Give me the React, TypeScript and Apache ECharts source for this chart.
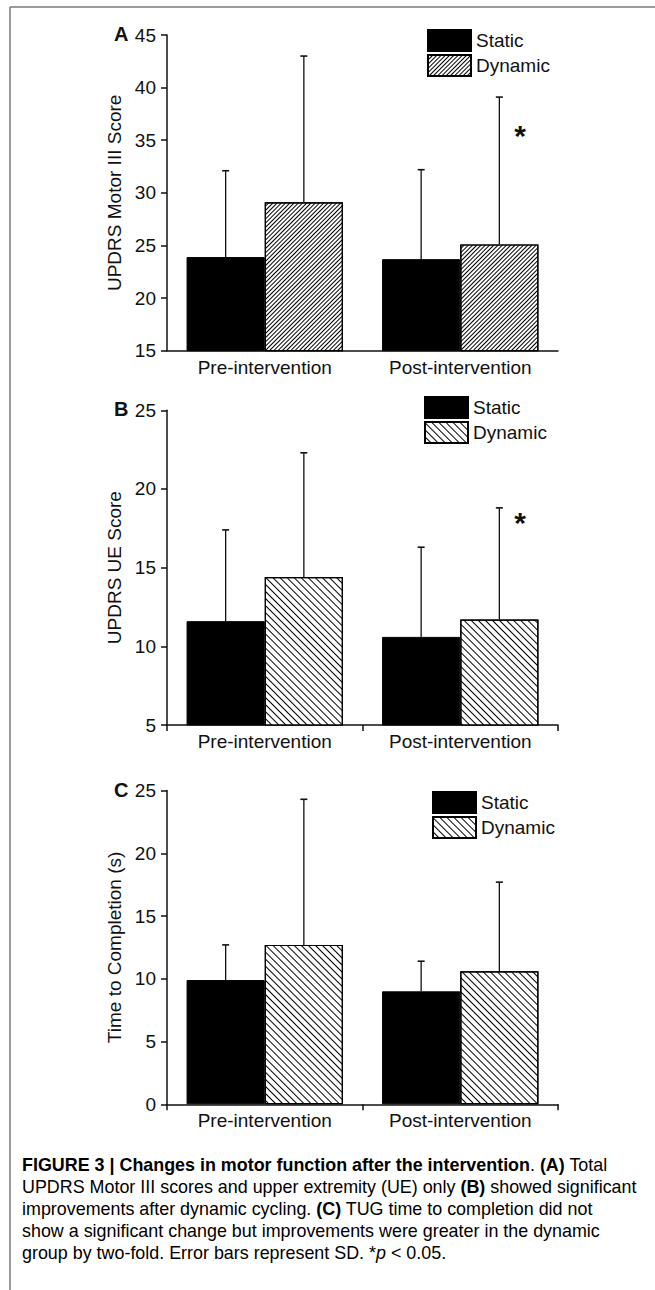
import React, { useEffect, useRef } from "react";
import * as echarts from "echarts";

const categories = ["Pre-intervention", "Post-intervention"];

// Panel A – UPDRS Motor III
const motorStatic = [23.9, 23.7];
const motorStaticSD = [8.2, 8.5];
const motorDynamic = [29.1, 25.1];
const motorDynamicSD = [13.9, 14.0];

// Panel B – UPDRS UE
const ueStatic = [11.6, 10.6];
const ueStaticSD = [5.8, 5.7];
const ueDynamic = [14.4, 11.7];
const ueDynamicSD = [7.9, 7.1];

// Panel C – TUG time to completion
const tugStatic = [9.9, 9.0];
const tugStaticSD = [2.8, 2.4];
const tugDynamic = [12.7, 10.6];
const tugDynamicSD = [11.6, 7.1];

const yMins = [15, 5, 0];
const yMaxs = [45, 25, 25];
const yInterval = 5;
const yNames = ["UPDRS Motor III Score", "UPDRS UE Score", "Time to Completion (s)"];
const panelLetters = ["A", "B", "C"];
const legendNames = ["Static", "Dynamic"];

const captionLines = [
  [["b", "FIGURE 3 | Changes in motor function after the intervention"], ["r", ". "], ["b", "(A)"], ["r", " Total"]],
  [["r", "UPDRS Motor III scores and upper extremity (UE) only "], ["b", "(B)"], ["r", " showed significant"]],
  [["r", "improvements after dynamic cycling. "], ["b", "(C)"], ["r", " TUG time to completion did not"]],
  [["r", "show a significant change but improvements were greater in the dynamic"]],
  [["r", "group by two-fold. Error bars represent SD. *"], ["i", "p"], ["r", " < 0.05."]],
];

const FONT = "'Liberation Sans', Arial, Helvetica, sans-serif";
const INK = "#111";

const panels = [
  { id: "A", s: motorStatic, sSD: motorStaticSD, d: motorDynamic, dSD: motorDynamicSD, rot: -Math.PI / 4, gap: 2.0, top: 35, height: 315.7, legendTop: 29, legendLeft: 427, starY: 135, boundaryTicks: false },
  { id: "B", s: ueStatic, sSD: ueStaticSD, d: ueDynamic, dSD: ueDynamicSD, rot: Math.PI / 4, gap: 3.4, top: 410.3, height: 314.7, legendTop: 396, legendLeft: 424, starY: 522, boundaryTicks: true },
  { id: "C", s: tugStatic, sSD: tugStaticSD, d: tugDynamic, dSD: tugDynamicSD, rot: Math.PI / 4, gap: 3.8, top: 790.5, height: 313.8, legendTop: 791, legendLeft: 432, starY: 0, boundaryTicks: true },
];

function errorRender(params: any, api: any) {
  const cat = api.value(0);
  const grp = api.value(1);
  const mean = api.value(2);
  const sd = api.value(3);
  const base = api.coord([cat, mean]);
  const top = api.coord([cat, mean + sd]);
  const band = api.size([1, 0])[0];
  const x = base[0] + (grp === 0 ? -1 : 1) * band * 0.2;
  return {
    type: "group",
    children: [
      { type: "line", shape: { x1: x, y1: base[1], x2: x, y2: top[1] }, style: { stroke: INK, lineWidth: 1.3 } },
      { type: "line", shape: { x1: x - 3.5, y1: top[1], x2: x + 3.5, y2: top[1] }, style: { stroke: INK, lineWidth: 1.6 } },
    ],
  };
}

export default function App() {
  const ref = useRef<HTMLDivElement>(null);

  useEffect(() => {
    document.body.style.margin = "0";
    const chart = echarts.init(ref.current!, null, { renderer: "svg" });

    const grid: any[] = [];
    const xAxis: any[] = [];
    const yAxis: any[] = [];
    const series: any[] = [];
    const legend: any[] = [];
    const graphic: any[] = [];

    panels.forEach((p, i) => {
      grid.push({ left: 167, top: p.top, width: 391, height: p.height });
      const mainX = xAxis.length;
      xAxis.push({
        type: "category",
        gridIndex: i,
        data: categories,
        axisLine: { lineStyle: { color: INK, width: 1.5 } },
        axisTick: { alignWithLabel: true, length: 6, lineStyle: { color: INK, width: 1.5 } },
        axisLabel: { fontSize: 19, fontFamily: FONT, color: INK, margin: 7 },
        splitLine: { show: false },
      });
      if (p.boundaryTicks) {
        xAxis.push({
          type: "category",
          gridIndex: i,
          data: categories,
          position: "bottom",
          axisLine: { show: false },
          axisTick: { show: true, alignWithLabel: false, length: 6, lineStyle: { color: INK, width: 1.5 } },
          axisLabel: { show: false },
          splitLine: { show: false },
        });
      }
      yAxis.push({
        type: "value",
        gridIndex: i,
        min: yMins[i],
        max: yMaxs[i],
        interval: yInterval,
        name: yNames[i],
        nameLocation: "middle",
        nameGap: 31,
        nameTextStyle: { fontSize: 19, fontFamily: FONT, color: INK },
        axisLine: { show: true, lineStyle: { color: INK, width: 1.5 } },
        axisTick: { show: true, length: 6, lineStyle: { color: INK, width: 1.5 } },
        axisLabel: { fontSize: 19, fontFamily: FONT, color: INK, margin: 11 },
        splitLine: { show: false },
      });
      const decal = {
        symbol: "rect",
        symbolSize: 1,
        dashArrayX: [1, 0],
        dashArrayY: [1, p.gap],
        rotation: p.rot,
        color: "#000",
        backgroundColor: "#fff",
      };
      series.push({
        type: "bar",
        name: `Static ${p.id}`,
        xAxisIndex: mainX,
        yAxisIndex: i,
        data: p.s,
        barGap: "0%",
        barCategoryGap: "20%",
        clip: true,
        itemStyle: { color: "#000", borderColor: "#000", borderWidth: 1 },
      });
      series.push({
        type: "bar",
        name: `Dynamic ${p.id}`,
        xAxisIndex: mainX,
        yAxisIndex: i,
        data: p.d,
        barGap: "0%",
        barCategoryGap: "20%",
        clip: true,
        itemStyle: { color: "#fff", borderColor: "#000", borderWidth: 1.2, decal },
      });
      const errData: number[][] = [];
      categories.forEach((_, c) => {
        errData.push([c, 0, p.s[c], p.sSD[c]]);
        errData.push([c, 1, p.d[c], p.dSD[c]]);
      });
      series.push({
        type: "custom",
        name: `err ${p.id}`,
        xAxisIndex: mainX,
        yAxisIndex: i,
        data: errData,
        encode: { x: 0, y: 2 },
        clip: false,
        z: 5,
        renderItem: errorRender,
      });
      legend.push({
        orient: "vertical",
        left: p.legendLeft,
        top: p.legendTop,
        padding: 0,
        itemWidth: 43,
        itemHeight: 21,
        itemGap: 2,
        icon: "rect",
        selectedMode: false,
        data: legendNames.map((n) => `${n} ${p.id}`),
        formatter: (n: string) => n.split(" ")[0],
        textStyle: { fontSize: 19, fontFamily: FONT, color: INK },
      });
      graphic.push({
        type: "text",
        left: 114,
        top: p.top - 11,
        style: { text: panelLetters[i], font: `bold 20px ${FONT}`, fill: INK },
      });
      if (p.starY) {
        graphic.push({
          type: "text",
          x: 520,
          y: p.starY,
          style: { text: "*", font: `bold 30px ${FONT}`, fill: INK, align: "center", verticalAlign: "middle" },
        });
      }
    });

    // frame lines
    graphic.push({ type: "line", shape: { x1: 10, y1: 7, x2: 655, y2: 7 }, style: { stroke: "#7a7a7a", lineWidth: 1.5 } });
    graphic.push({ type: "line", shape: { x1: 10, y1: 7, x2: 10, y2: 1290 }, style: { stroke: "#7a7a7a", lineWidth: 1.5 } });

    const capSize = 17.9;
    const capRich = {
      b: { fontFamily: FONT, fontWeight: "bold", fontSize: capSize, color: INK },
      r: { fontFamily: FONT, fontSize: capSize, color: "#222" },
      i: { fontFamily: FONT, fontStyle: "italic", fontSize: capSize, color: "#222" },
    };
    const lineY = [1165, 1187, 1209, 1231, 1253];
    captionLines.forEach((segs, k) => {
      graphic.push({
        type: "text",
        x: 22,
        y: lineY[k],
        style: {
          text: segs.map(([t, s]) => `{${t}|${s}}`).join(""),
          rich: capRich,
          verticalAlign: "middle",
          align: "left",
        },
      });
    });

    chart.setOption({
      animation: false,
      backgroundColor: "#fff",
      grid,
      xAxis,
      yAxis,
      series,
      legend,
      graphic,
    });
    return () => chart.dispose();
  }, []);

  return <div ref={ref} style={{ width: 655, height: 1290 }} />;
}
